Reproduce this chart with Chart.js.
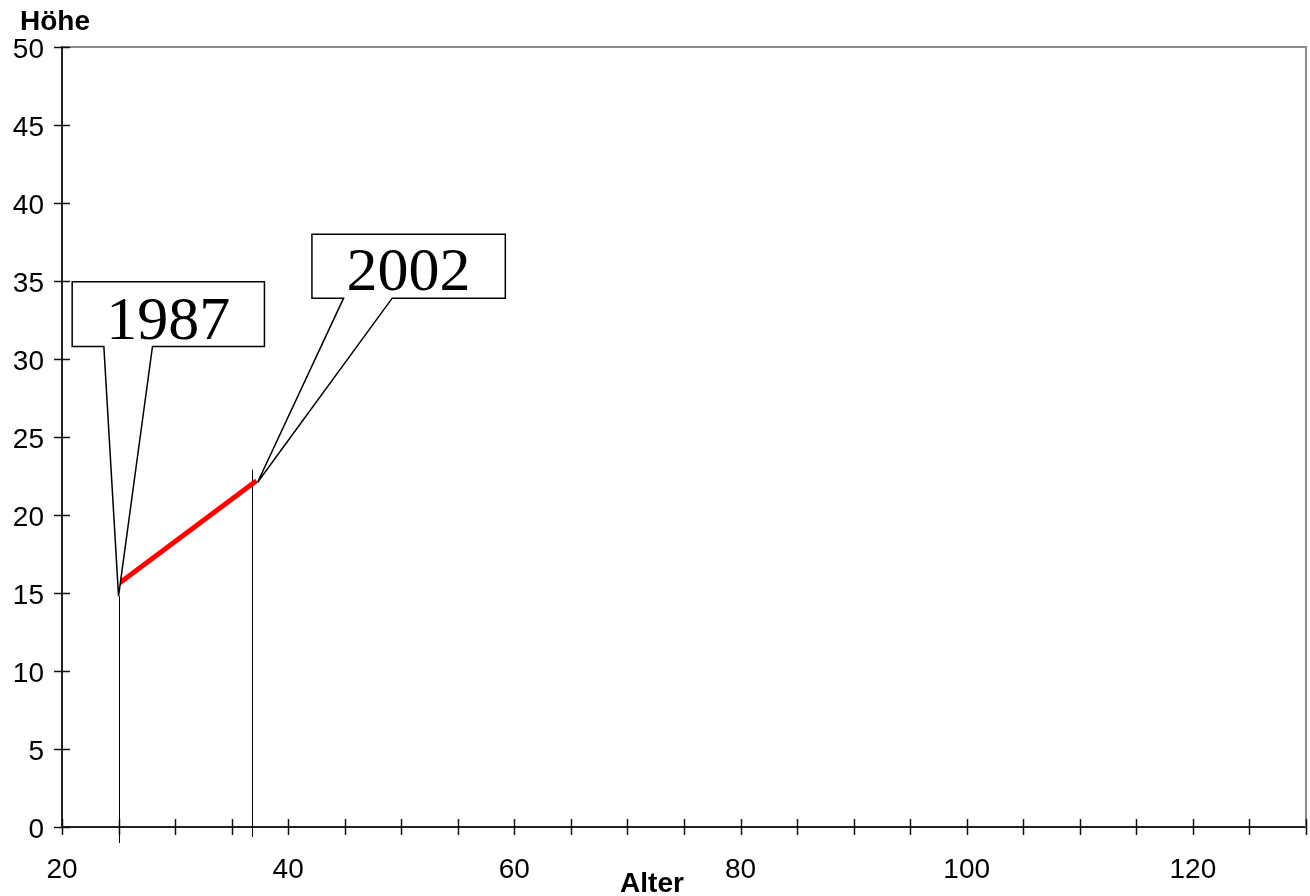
<!DOCTYPE html>
<html>
<head>
<meta charset="utf-8">
<script src="https://cdn.jsdelivr.net/npm/chart.js@4.4.1/dist/chart.umd.min.js"></script>
<style>
  html, body { margin: 0; padding: 0; background: #fff; overflow: hidden; }
  canvas { display: block; }
</style>
</head>
<body>
<canvas id="grafica" width="1310" height="896"></canvas>
<script>
// Messwerte
const alter = [25, 37.2];
const hoehe = [15.6, 22.2];
const jahre = ['1987', '2002'];

// senkrechte Hilfslinien (Alter, obere Höhe)
const linieAlter = [25, 36.8];
const linieHoehe = [14.8, 22.9];

const xMin = 20, xMax = 130, xSchritt = 5, xBeschriftung = 20;
const yMin = 0, yMax = 50, ySchritt = 5;

const schrift = 'Liberation Sans, Arial, sans-serif';

// Sprechblasen in Datenkoordinaten
const blasen = [
  { text: jahre[0], x1: 20.9, x2: 37.9, yo: 34.95, yu: 30.8, f1: 23.7, f2: 28.0, sx: 25, sy: 14.8 },
  { text: jahre[1], x1: 42.1, x2: 59.2, yo: 38.0, yu: 33.9, f1: 44.9, f2: 49.2, sx: 37.3, sy: 22.1 }
];

const zusatz = {
  id: 'zusatz',
  beforeDatasetsDraw(chart) {
    const ctx = chart.ctx, xs = chart.scales.x, ys = chart.scales.y, a = chart.chartArea;
    ctx.save();
    // Rahmen oben und rechts
    ctx.strokeStyle = '#8a8a8a';
    ctx.lineWidth = 2;
    ctx.beginPath();
    ctx.moveTo(a.left, a.top); ctx.lineTo(a.right, a.top); ctx.lineTo(a.right, a.bottom);
    ctx.stroke();
    // Teilstriche
    ctx.strokeStyle = '#111';
    ctx.lineWidth = 1.5;
    xs.ticks.forEach(t => {
      const px = Math.round(xs.getPixelForValue(t.value)) + 0.5;
      ctx.beginPath(); ctx.moveTo(px, a.bottom - 8); ctx.lineTo(px, a.bottom + 8); ctx.stroke();
    });
    ys.ticks.forEach(t => {
      const py = Math.round(ys.getPixelForValue(t.value)) + 0.5;
      ctx.beginPath(); ctx.moveTo(a.left - 8, py); ctx.lineTo(a.left + 8, py); ctx.stroke();
    });
    // senkrechte Linien
    ctx.strokeStyle = '#000';
    ctx.lineWidth = 1;
    linieAlter.forEach((v, i) => {
      const px = Math.round(xs.getPixelForValue(v)) + 0.5;
      ctx.beginPath();
      ctx.moveTo(px, ys.getPixelForValue(linieHoehe[i]));
      ctx.lineTo(px, a.bottom + (i === 0 ? 16 : 10));
      ctx.stroke();
    });
    ctx.restore();
  },
  afterDraw(chart) {
    const ctx = chart.ctx, xs = chart.scales.x, ys = chart.scales.y;
    ctx.save();
    blasen.forEach(b => {
      const l = xs.getPixelForValue(b.x1), r = xs.getPixelForValue(b.x2);
      const o = ys.getPixelForValue(b.yo), u = ys.getPixelForValue(b.yu);
      const f1 = xs.getPixelForValue(b.f1), f2 = xs.getPixelForValue(b.f2);
      const sx = xs.getPixelForValue(b.sx), sy = ys.getPixelForValue(b.sy);
      ctx.beginPath();
      ctx.moveTo(l, o); ctx.lineTo(r, o); ctx.lineTo(r, u); ctx.lineTo(f2, u);
      ctx.lineTo(sx, sy); ctx.lineTo(f1, u); ctx.lineTo(l, u); ctx.closePath();
      ctx.fillStyle = '#fff';
      ctx.fill();
      ctx.strokeStyle = '#000';
      ctx.lineWidth = 1.5;
      ctx.stroke();
      ctx.fillStyle = '#000';
      ctx.font = '62px "Liberation Serif", "Times New Roman", serif';
      ctx.textAlign = 'center';
      ctx.textBaseline = 'alphabetic';
      ctx.fillText(b.text, (l + r) / 2, u - 8);
    });
    // Achsentitel
    ctx.fillStyle = '#000';
    ctx.font = 'bold 28px ' + schrift;
    ctx.textAlign = 'left';
    ctx.textBaseline = 'alphabetic';
    ctx.fillText('Höhe', 20, 30);
    ctx.textAlign = 'center';
    ctx.fillText('Alter', 652, 892);
    ctx.restore();
  }
};

new Chart(document.getElementById('grafica'), {
  type: 'scatter',
  data: {
    datasets: [{
      label: 'Höhe',
      data: alter.map((v, i) => ({ x: v, y: hoehe[i] })),
      showLine: true,
      borderColor: '#ff0000',
      borderWidth: 5,
      pointRadius: 0,
      fill: false
    }]
  },
  options: {
    responsive: false,
    animation: false,
    layout: { padding: { top: 47, right: 4, left: 0, bottom: 0 } },
    plugins: { legend: { display: false }, tooltip: { enabled: false } },
    scales: {
      x: {
        type: 'linear',
        min: xMin, max: xMax,
        afterFit: s => { s.height = 69; s.paddingLeft = 0; s.paddingRight = 0; },
        grid: { display: true, drawOnChartArea: false, drawTicks: false },
        border: { display: true, color: '#222', width: 2 },
        ticks: {
          stepSize: xSchritt,
          autoSkip: false,
          maxRotation: 0,
          padding: 26,
          color: '#000',
          font: { family: schrift, size: 28 },
          callback: v => (v % xBeschriftung === 0 ? String(v) : '')
        }
      },
      y: {
        min: yMin, max: yMax,
        afterFit: s => { s.width = 62; s.paddingTop = 0; s.paddingBottom = 0; },
        grid: { display: true, drawOnChartArea: false, drawTicks: false },
        border: { display: true, color: '#222', width: 2 },
        ticks: {
          stepSize: ySchritt,
          padding: 18,
          labelOffset: 3,
          color: '#000',
          font: { family: schrift, size: 28 }
        }
      }
    }
  },
  plugins: [zusatz]
});
</script>
</body>
</html>
